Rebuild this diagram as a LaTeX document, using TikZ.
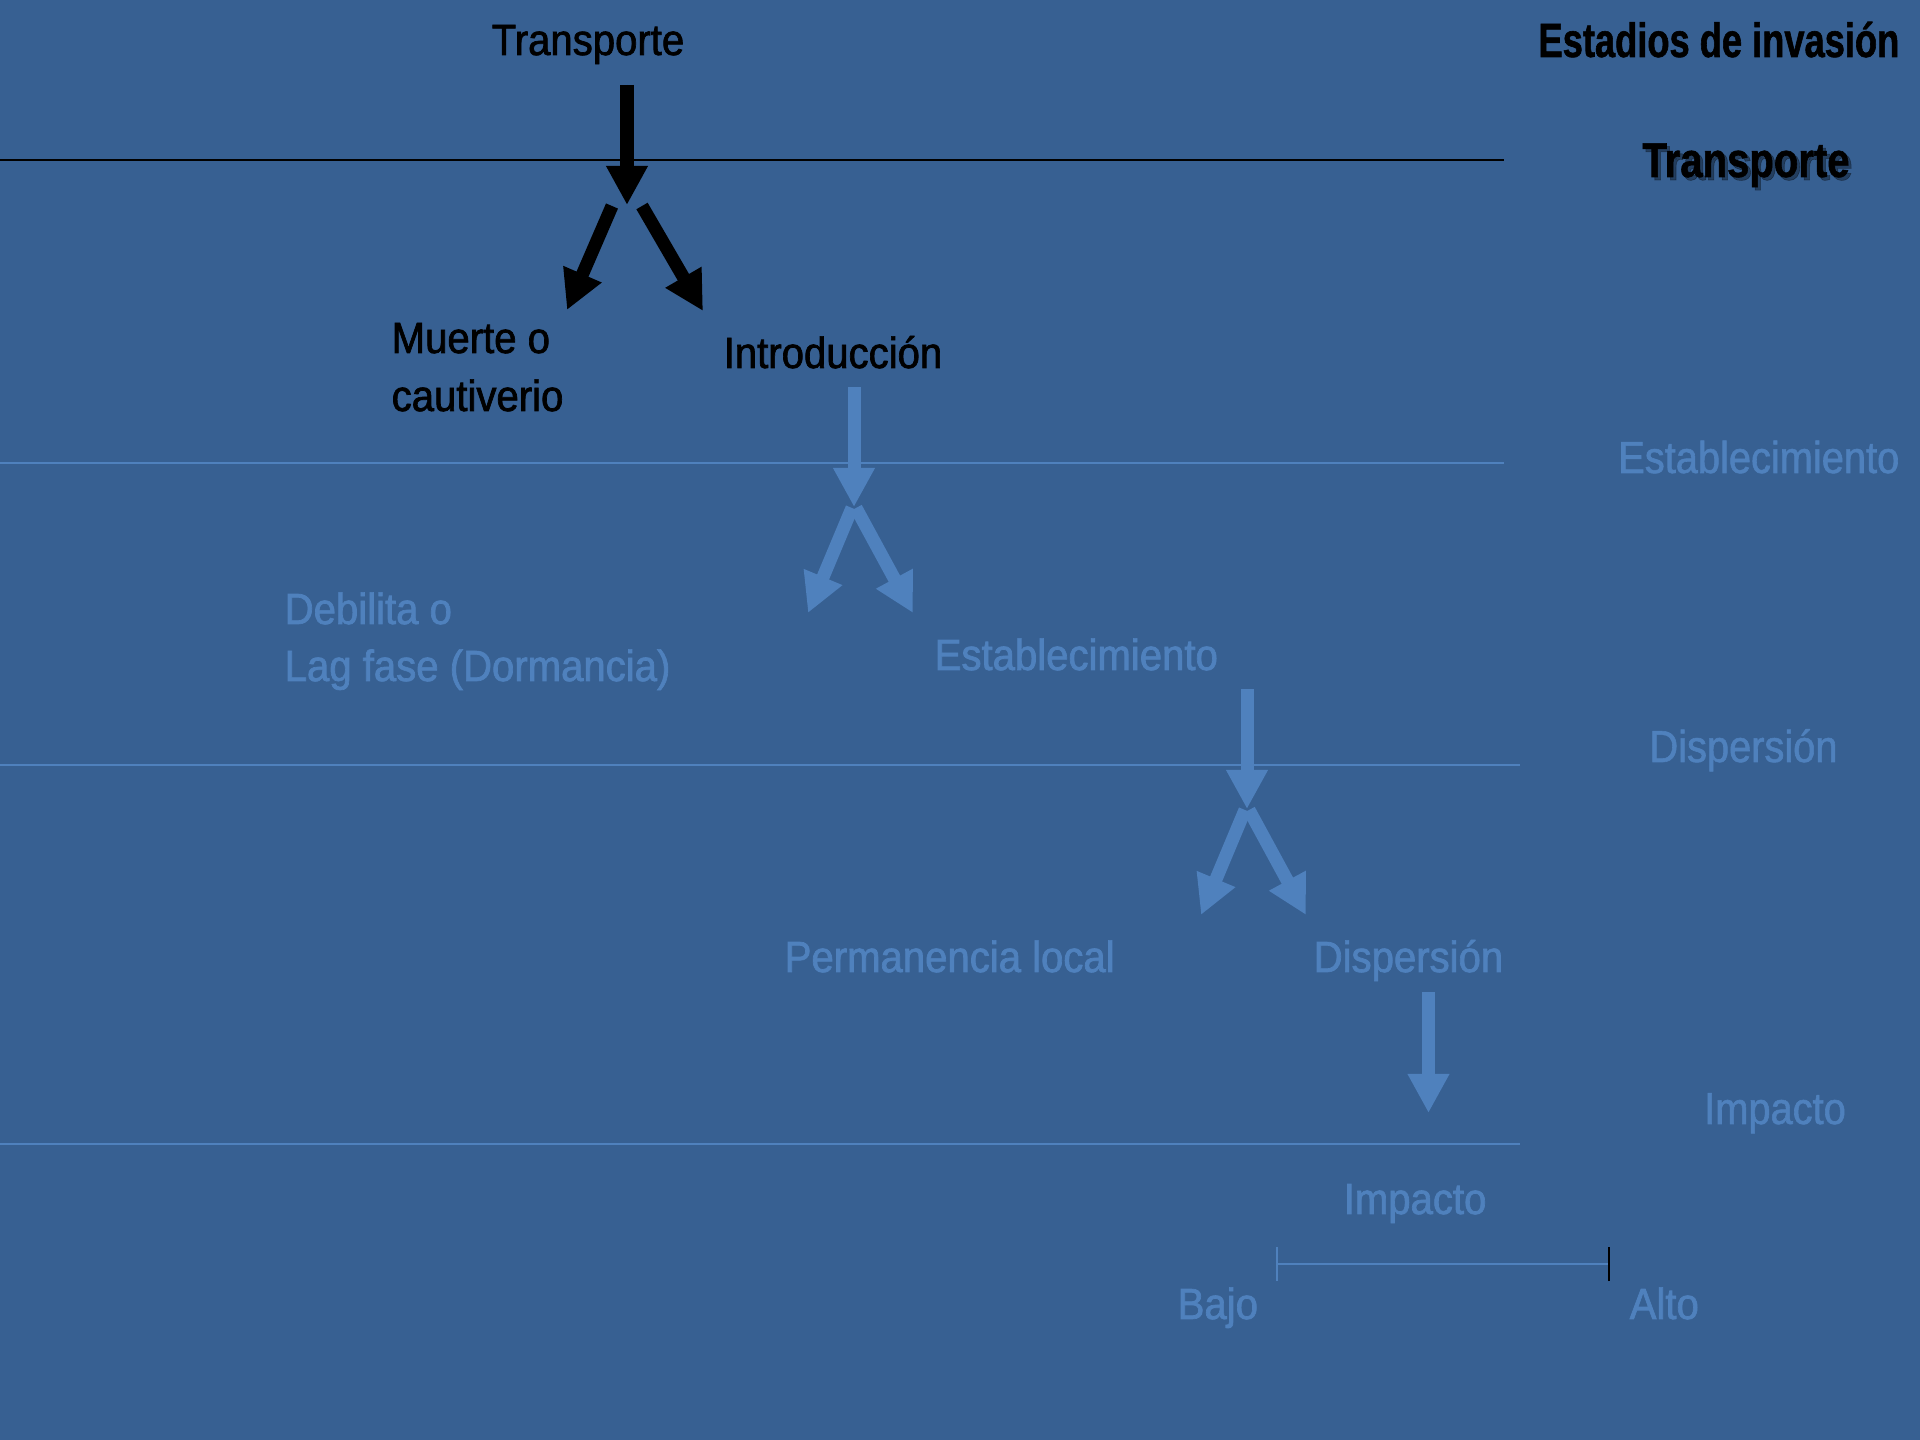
\documentclass[tikz,border=0pt]{standalone}
\usepackage{fontspec}
\usetikzlibrary{arrows.meta}
\setmainfont{Liberation Sans}
\newfontfamily\condfont[FakeStretch=0.92,FakeBold=1.6]{Liberation Sans}
\newfontfamily\headfont[FakeStretch=0.755,FakeBold=1.2]{Liberation Sans Bold}
\newfontfamily\headwidefont[FakeStretch=0.82,FakeBold=1.2]{Liberation Sans Bold}
\newfontfamily\stagefont[FakeStretch=0.89,FakeBold=1.3]{Liberation Sans}

\definecolor{bgblue}{RGB}{55,96,146}
\definecolor{paleblue}{RGB}{79,129,189}

\tikzset{
  txt/.style={inner sep=0pt, font=\condfont\fontsize{12.4}{14}\selectfont},
  darktxt/.style={txt, text=black},
  paletxt/.style={txt, text=paleblue},
  stagetxt/.style={inner sep=0pt, text=paleblue, font=\stagefont\fontsize{12.72}{15}\selectfont},
  headtxt/.style={inner sep=0pt, text=black, font=\headfont\fontsize{13.66}{16}\selectfont},
  blockarrow/.style={line width=3.7pt, -{Triangle[length=11.1pt,width=11.1pt]}},
  darkarrow/.style={blockarrow, draw=black, fill=black},
  palearrow/.style={blockarrow, draw=paleblue, fill=paleblue},
  stageline/.style={line width=0.57pt},
}

\begin{document}
\begin{tikzpicture}[x=0.01cm, y=-0.01cm]
  % background
  \fill[bgblue] (0,0) rectangle (1920,1440);
  \useasboundingbox (0,0) rectangle (1920,1440);

  % stage separators
  \draw[stageline, black] (0,160) -- (1504,160);
  \draw[stageline, paleblue] (0,463) -- (1504,463);
  \draw[stageline, paleblue] (0,765) -- (1520,765);
  \draw[stageline, paleblue] (0,1144) -- (1520,1144);

  % right-hand column of stages
  \node[headtxt, anchor=base east] (title) at (1900,57) {Estadios de invasión};
  \node[inner sep=0pt, text=black, opacity=0.35, anchor=base,
        font=\headwidefont\fontsize{13.9}{16}\selectfont] (stTranspShadow) at (1749,180) {Transporte};
  \node[inner sep=0pt, text=black, anchor=base,
        font=\headwidefont\fontsize{13.9}{16}\selectfont] (stTransp) at (1746,177) {Transporte};
  \node[stagetxt, anchor=base east] (stEstab) at (1900,473) {Establecimiento};
  \node[stagetxt, anchor=base] (stDisp) at (1743.5,762) {Dispersión};
  \node[stagetxt, anchor=base] (stImp) at (1775,1124) {Impacto};

  % flow labels
  \node[darktxt, anchor=base] (transp) at (588,55) {Transporte};
  \node[darktxt, anchor=base west] (muerteA) at (391,353) {Muerte o};
  \node[darktxt, anchor=base west] (muerteB) at (391,411) {cautiverio};
  \node[darktxt, anchor=base west] (intro) at (723,368) {Introducción};
  \node[paletxt, anchor=base west] (debilA) at (284,624) {Debilita o};
  \node[paletxt, anchor=base west] (debilB) at (284,681) {Lag fase (Dormancia)};
  \node[paletxt, anchor=base west] (estab) at (934,670) {Establecimiento};
  \node[paletxt, anchor=base west] (perman) at (784,972) {Permanencia local};
  \node[paletxt, anchor=base west] (disp) at (1313,972) {Dispersión};
  \node[paletxt, anchor=base west] (imp) at (1343,1214) {Impacto};
  \node[paletxt, anchor=base west] (bajo) at (1177,1319) {Bajo};
  \node[paletxt, anchor=base west] (alto) at (1629,1319) {Alto};

  % arrow end points
  \coordinate (a1) at (627,85);   \coordinate (a1s) at (627,205);
  \coordinate (a1l) at (612,206); \coordinate (a1lt) at (567,310);
  \coordinate (a1r) at (642,206); \coordinate (a1rt) at (703,311);

  \coordinate (a2) at (854,387);  \coordinate (a2s) at (854,507);
  \coordinate (a2l) at (852,508); \coordinate (a2lt) at (808,613);
  \coordinate (a2r) at (856,508); \coordinate (a2rt) at (913,613);

  \coordinate (a3) at (1247,689);  \coordinate (a3s) at (1247,809);
  \coordinate (a3l) at (1245,810); \coordinate (a3lt) at (1201,915);
  \coordinate (a3r) at (1249,810); \coordinate (a3rt) at (1306,915);

  \coordinate (a4) at (1428.5,992); \coordinate (a4s) at (1428.5,1113);

  % transport split
  \draw[darkarrow] (a1) -- (a1s);
  \draw[darkarrow] (a1l) -- (a1lt);
  \draw[darkarrow] (a1r) -- (a1rt);

  % establishment split
  \draw[palearrow] (a2) -- (a2s);
  \draw[palearrow] (a2l) -- (a2lt);
  \draw[palearrow] (a2r) -- (a2rt);

  % dispersal split
  \draw[palearrow] (a3) -- (a3s);
  \draw[palearrow] (a3l) -- (a3lt);
  \draw[palearrow] (a3r) -- (a3rt);

  % impact
  \draw[palearrow] (a4) -- (a4s);

  % impact scale
  \coordinate (sL) at (1277,1264);
  \coordinate (sR) at (1609,1264);
  \draw[stageline, paleblue] (sL) -- (sR);
  \draw[stageline, paleblue] ([yshift=-0.17cm]sL) -- ([yshift=0.17cm]sL);
  \draw[stageline, black] ([yshift=-0.17cm]sR) -- ([yshift=0.17cm]sR);
\end{tikzpicture}
\end{document}
